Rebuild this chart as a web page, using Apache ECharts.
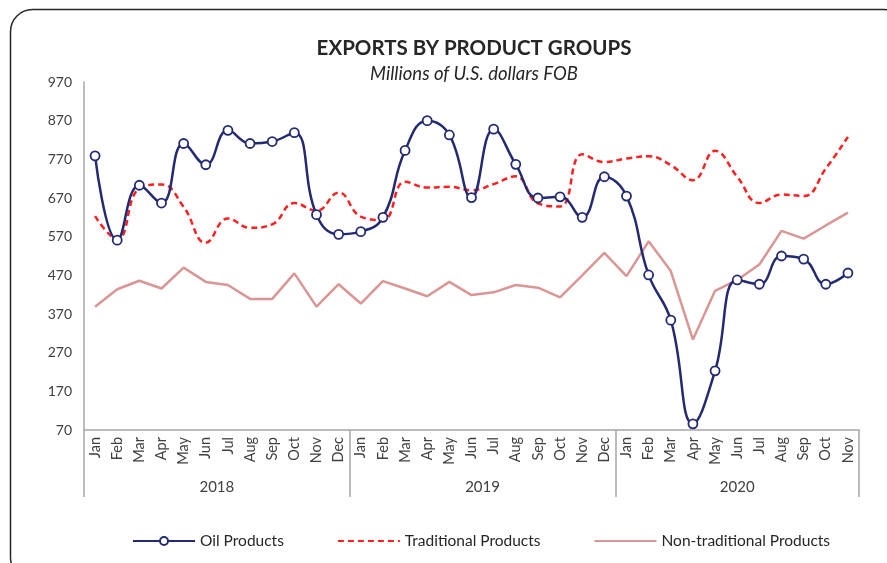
<!DOCTYPE html>
<html>
<head>
<meta charset="utf-8">
<script src="https://cdn.jsdelivr.net/npm/echarts@6/dist/echarts.min.js"></script>
<style>html,body{margin:0;padding:0;background:#fff;}#c{width:887px;height:563px;}</style>
</head>
<body>
<div id="c"></div>
<script>
const monthNames = ['Jan','Feb','Mar','Apr','May','Jun','Jul','Aug','Sep','Oct','Nov','Dec'];
const years = ['2018','2019','2020'];
const monthsPerYear = [12, 12, 11];
const yTicks = [70,170,270,370,470,570,670,770,870,970];

const oilProducts = [779,561,703,657,811,756,845,811,816,839,627,576,
                     583,620,793,870,833,671,848,757,670,673,620,725,
                     675,471,354,86,223,458,447,520,512,447,476];
const traditionalProducts = [623,563,695,705,647,554,617,593,602,657,637,684,
                             622,613,712,697,699,690,706,726,656,648,783,763,
                             772,778,755,716,792,725,657,679,675,746,828];
const nonTraditionalProducts = [389,434,456,436,490,453,445,409,409,475,389,447,
                                397,455,436,416,453,419,426,445,438,413,470,528,
                                468,558,481,304,430,458,498,585,565,599,632];

const categories = [];
const yearStarts = [0];
const yearCenters = [];
years.forEach((y, i) => {
  for (let m = 0; m < monthsPerYear[i]; m++) categories.push(monthNames[m]);
  yearCenters.push(yearStarts[i] + monthsPerYear[i] / 2);
  yearStarts.push(yearStarts[i] + monthsPerYear[i]);
});

const FONT = 'Lato, "Open Sans", sans-serif';
const chart = echarts.init(document.getElementById('c'), null, {renderer: 'canvas'});
chart.setOption({
  animation: false,
  backgroundColor: '#fff',
  textStyle: {fontFamily: FONT},
  graphic: [{
    type: 'rect', left: 8, top: 7, z: -1,
    shape: {width: 895, height: 570, r: 22},
    style: {fill: 'none', stroke: '#262626', lineWidth: 1.5}
  }],
  title: {
    text: 'EXPORTS BY PRODUCT GROUPS',
    subtext: 'Millions of U.S. dollars FOB',
    left: 469, top: 33, textAlign: 'center', itemGap: 6,
    textStyle: {fontFamily: FONT, fontSize: 20.5, fontWeight: 'bold', color: '#262626'},
    subtextStyle: {fontFamily: FONT, fontSize: 18.5, fontStyle: 'italic', color: '#262626'}
  },
  legend: {
    left: 127, top: 528, itemWidth: 62, itemHeight: 10, itemGap: 53,
    textStyle: {fontFamily: FONT, fontSize: 15.5, color: '#262626'},
    data: [
      {name: 'Oil Products'},
      {name: 'Traditional Products', itemStyle: {opacity: 0}},
      {name: 'Non-traditional Products', itemStyle: {opacity: 0}}
    ]
  },
  grid: {left: 84, right: 28, top: 82, bottom: 133, containLabel: false},
  xAxis: [{
    type: 'category', data: categories, boundaryGap: true,
    axisLine: {lineStyle: {color: '#a6a6a6', width: 1.5}},
    axisTick: {show: false},
    axisLabel: {rotate: 90, interval: 0, fontSize: 14.5, color: '#404040', margin: 7, fontFamily: FONT}
  }, {
    type: 'value', min: 0, max: categories.length, position: 'bottom',
    axisLine: {show: false},
    splitLine: {show: false},
    axisTick: {show: true, customValues: yearStarts, length: 67, lineStyle: {color: '#a6a6a6', width: 1.5}},
    axisLabel: {
      customValues: yearCenters, margin: 50, fontSize: 15, color: '#404040', fontFamily: FONT,
      formatter: v => years[yearCenters.indexOf(v)] || ''
    }
  }],
  yAxis: {
    type: 'value', min: yTicks[0], max: yTicks[yTicks.length - 1],
    axisLine: {show: true, lineStyle: {color: '#a6a6a6', width: 1.5}},
    axisTick: {show: false},
    splitLine: {show: false},
    axisLabel: {customValues: yTicks, fontSize: 14, color: '#404040', margin: 12, fontFamily: FONT}
  },
  series: [{
    name: 'Non-traditional Products', type: 'line', data: nonTraditionalProducts,
    showSymbol: false, symbol: 'none', z: 2,
    lineStyle: {color: '#d99694', width: 2.5}, itemStyle: {color: '#d99694'}
  }, {
    name: 'Traditional Products', type: 'line', data: traditionalProducts, smooth: 0.45,
    symbol: 'none', z: 3,
    lineStyle: {color: '#ff1f1f', width: 2.5, type: [6, 4]}, itemStyle: {color: '#ff1f1f'}
  }, {
    name: 'Oil Products', type: 'line', data: oilProducts, smooth: 0.45,
    symbol: 'circle', symbolSize: 9, showAllSymbol: true, z: 4,
    lineStyle: {color: '#232a73', width: 2.5},
    itemStyle: {color: '#ffffff', borderColor: '#232a73', borderWidth: 1.8}
  }]
});
</script>
</body>
</html>
